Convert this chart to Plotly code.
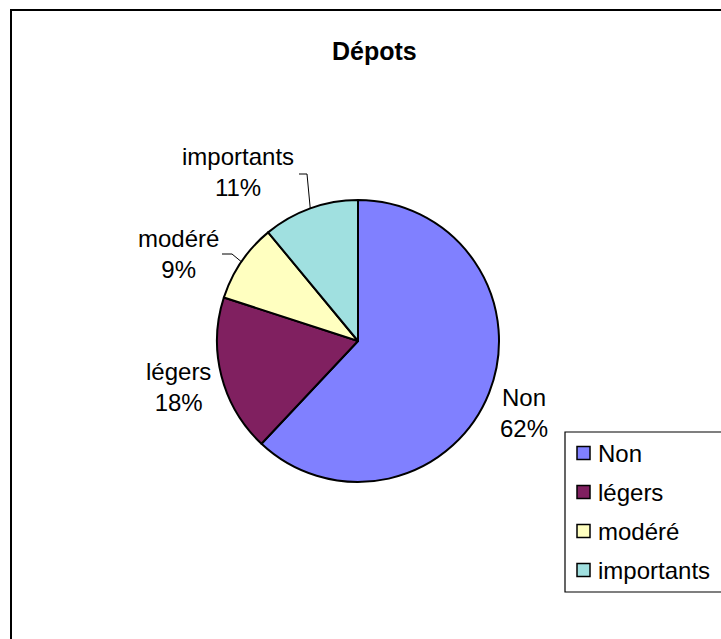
import math
import plotly.graph_objects as go

# Dépots — share of each category
labels = ["Non", "légers", "modéré", "importants"]
values = [62, 18, 9, 11]
colors = ["#8080FF", "#802060", "#FFFFC0", "#A0E0E0"]
title_text = "Dépots"

W, H = 721, 639
FONT = "Liberation Sans, Arial, sans-serif"

# pie geometry (pixels)
cx, cy, r = 358, 341, 141


def px(x):
    return x / W


def py(y):
    return 1 - y / H


fig = go.Figure(
    go.Pie(
        labels=labels,
        values=values,
        marker=dict(colors=colors, line=dict(color="black", width=2)),
        sort=False,
        direction="clockwise",
        rotation=0,
        textinfo="none",
        hoverinfo="label+percent",
        showlegend=False,
        domain=dict(x=[px(cx - r), px(cx + r)], y=[py(cy + r), py(cy - r)]),
    )
)

shapes = []
annotations = []

# outer chart frame (left and top edges visible)
shapes.append(dict(type="rect", xref="paper", yref="paper",
                   x0=px(11), y0=py(10), x1=px(W + 20), y1=py(H + 20),
                   line=dict(color="black", width=2), layer="below"))

# title
annotations.append(dict(text="<b>" + title_text + "</b>", xref="paper", yref="paper",
                        x=px(374), y=py(51), xanchor="center", yanchor="middle",
                        showarrow=False, font=dict(family=FONT, size=25, color="black")))

# category labels with percentages
total = sum(values)
label_pos = {
    "Non": (524, 413),
    "légers": (178, 387),
    "modéré": (178, 254),
    "importants": (238, 172),
}
# leader line elbows for labels placed away from their slice
leader_elbows = {
    "modéré": [(222, 254), (232, 254)],
    "importants": [(299, 174), (307, 174)],
}

cum = 0
for lab, v in zip(labels, values):
    mid = (cum + v / 2) / total * 2 * math.pi
    cum += v
    ex = cx + r * math.sin(mid)
    ey = cy - r * math.cos(mid)
    lx, ly = label_pos[lab]
    pct = round(v / total * 100)
    annotations.append(dict(text=f"{lab}<br>{pct}%", xref="paper", yref="paper",
                            x=px(lx), y=py(ly), xanchor="center", yanchor="middle",
                            showarrow=False, align="center",
                            font=dict(family=FONT, size=24, color="black")))
    if lab in leader_elbows:
        pts = leader_elbows[lab] + [(ex, ey)]
        path = "M " + " L ".join(f"{px(a)},{py(b)}" for a, b in pts)
        shapes.append(dict(type="path", xref="paper", yref="paper", path=path,
                           line=dict(color="black", width=1)))

# legend box
lg_x0, lg_y0, lg_y1 = 565, 432, 592
shapes.append(dict(type="rect", xref="paper", yref="paper",
                   x0=px(lg_x0), y0=py(lg_y1), x1=px(W + 10), y1=py(lg_y0),
                   line=dict(color="black", width=1.2), fillcolor="white"))
item_y0, item_dy = 453, 39
for i, (lab, col) in enumerate(zip(labels, colors)):
    yc = item_y0 + i * item_dy
    shapes.append(dict(type="rect", xref="paper", yref="paper",
                       x0=px(577), x1=px(590), y0=py(yc + 6.5), y1=py(yc - 6.5),
                       fillcolor=col, line=dict(color="black", width=1.5)))
    annotations.append(dict(text=lab, xref="paper", yref="paper",
                            x=px(596), y=py(yc), xanchor="left", yanchor="middle",
                            showarrow=False,
                            font=dict(family=FONT, size=24, color="black")))

fig.update_layout(
    width=W, height=H,
    margin=dict(l=0, r=0, t=0, b=0),
    paper_bgcolor="white",
    plot_bgcolor="white",
    shapes=shapes,
    annotations=annotations,
)

fig.write_html("out.html")
